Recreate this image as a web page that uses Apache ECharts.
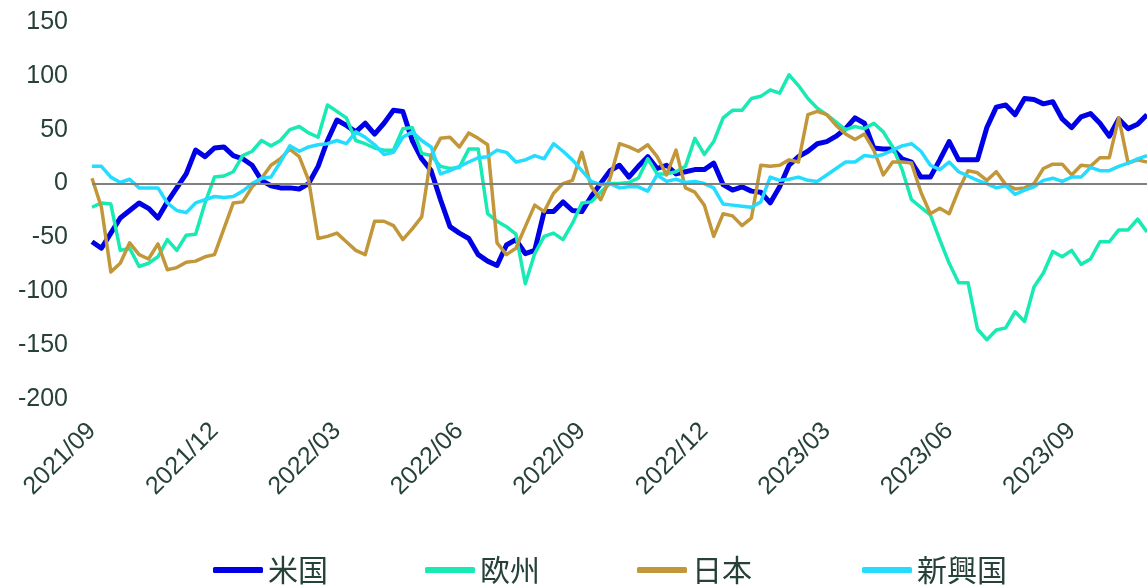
<!DOCTYPE html>
<html lang="ja">
<head>
    <meta charset="utf-8">
    <title>地域別推移</title>
    <script src="https://cdn.jsdelivr.net/npm/echarts@6/dist/echarts.min.js"></script>
    <style>
        html, body { margin: 0; padding: 0; background: #fff; }
        #chart { width: 1147px; height: 588px; }
    </style>
</head>
<body>
    <div id="chart"></div>
    <script>
        // weekly observations, first one 2021/09/03
        const startDate = new Date(2021, 8, 3);
        const pointCount = 113;
        const weeks = [];
        for (let i = 0; i < pointCount; i++) {
            const d = new Date(startDate.getTime() + i * 7 * 86400000);
            weeks.push(d.getFullYear() + '/' + String(d.getMonth() + 1).padStart(2, '0'));
        }

        const seriesNames = ['米国', '欧州', '日本', '新興国'];
        const yTicks = { min: -200, max: 150, step: 50 };

        const usa = [-54, -60, -46, -32, -25, -18, -23, -32, -17, -4, 9, 31, 25, 33, 34, 26, 23, 17, 3,
            -2, -4, -4, -5, 0, 16, 40, 59, 54, 48, 56, 46, 56, 68, 67, 40, 23, 12, -15, -40, -46,
            -51, -66, -72, -76, -57, -52, -65, -62, -26, -26, -17, -25, -26, -12, 0, 12, 17, 6, 16, 25,
            14, 17, 9, 11, 13, 13, 19, -1, -6, -3, -7, -8, -18, -3, 17, 25, 30, 37, 39, 44,
            51, 61, 56, 33, 32, 32, 23, 20, 6, 6, 22, 39, 22, 22, 22, 52, 71, 73, 64, 79,
            78, 74, 76, 60, 52, 62, 65, 56, 44, 60, 51, 55, 64];
        const europe = [-22, -18, -19, -62, -60, -77, -74, -68, -52, -62, -48, -47, -18, 6, 7, 11, 26, 30, 40,
            35, 40, 50, 53, 47, 43, 73, 67, 61, 40, 37, 33, 31, 31, 51, 52, 28, 26, 16, 14, 15,
            32, 32, -28, -35, -40, -47, -93, -65, -49, -46, -52, -37, -18, -17, -8, 0, 0, 1, 5, 23,
            9, 9, 11, 16, 42, 27, 39, 61, 68, 68, 79, 81, 87, 84, 101, 91, 79, 70, 64, 57,
            50, 53, 51, 56, 48, 34, 13, -15, -22, -29, -52, -74, -92, -92, -135, -145, -136, -134, -119, -128,
            -96, -83, -63, -68, -62, -75, -70, -54, -54, -43, -43, -33, -45];
        const japan = [5, -22, -82, -74, -55, -66, -70, -56, -80, -78, -73, -72, -68, -66, -42, -18, -17, -3, 5,
            17, 23, 32, 25, 3, -51, -49, -46, -54, -62, -66, -35, -35, -39, -52, -42, -31, 26, 42, 43, 34,
            47, 42, 36, -55, -66, -60, -40, -20, -26, -9, 0, 3, 29, -3, -15, 5, 37, 34, 30, 36,
            25, 8, 31, -4, -8, -20, -49, -28, -30, -39, -32, 17, 16, 17, 22, 20, 64, 67, 64, 54,
            46, 41, 46, 31, 8, 20, 20, 19, -8, -28, -23, -28, -6, 12, 10, 3, 11, -1, -5, -4,
            0, 14, 18, 18, 8, 17, 16, 24, 24, 61, 19, 22, 20];
        const emerging = [16, 16, 6, 1, 4, -4, -4, -4, -18, -25, -27, -18, -15, -12, -13, -12, -7, 0, 5,
            6, 20, 35, 30, 34, 36, 37, 40, 37, 48, 43, 36, 27, 29, 43, 48, 40, 34, 9, 12, 16,
            20, 24, 25, 31, 29, 20, 22, 26, 23, 37, 30, 22, 12, 2, -1, 0, -4, -3, -3, -7,
            8, 2, 4, 1, 2, 0, -4, -19, -20, -21, -22, -17, 6, 3, 4, 6, 3, 2, 8, 14,
            20, 20, 26, 25, 27, 31, 35, 37, 30, 17, 13, 20, 11, 7, 3, 0, -4, -2, -10, -6,
            -3, 3, 5, 2, 6, 6, 15, 12, 12, 16, 19, 23, 26];

        const colors = ['#0000e6', '#17eab2', '#c1973a', '#24dcff'];
        const widths = [5, 3.5, 3.5, 3.5];
        const textColor = '#26403a';

        const chart = echarts.init(document.getElementById('chart'));

        const values = [usa, europe, japan, emerging];
        const series = [{
            // grey zero line, drawn first so the data lines sit on top
            name: 'zero',
            type: 'line',
            data: [],
            silent: true,
            markLine: {
                silent: true,
                symbol: 'none',
                label: { show: false },
                lineStyle: { color: '#808080', width: 2, type: 'solid' },
                data: [{ yAxis: 0 }]
            }
        }];
        seriesNames.forEach(function (name, k) {
            series.push({
                name: name,
                type: 'line',
                data: values[k],
                symbol: 'none',
                lineStyle: { color: colors[k], width: widths[k], join: 'round' },
                itemStyle: { color: colors[k] }
            });
        });

        const legendText = { color: textColor, fontSize: 30, fontFamily: 'Noto Sans CJK JP' };
        const legendBase = {
            bottom: 3,
            padding: 0,
            icon: 'roundRect',
            itemWidth: 50,
            itemHeight: 6,
            itemGap: 97,
            textStyle: legendText
        };

        chart.setOption({
            animation: false,
            grid: { left: 92, right: 0, top: 22, bottom: 189, containLabel: false },
            legend: [
                Object.assign({ data: seriesNames.slice(0, 3), left: 213 }, legendBase),
                Object.assign({ data: seriesNames.slice(3), left: 862 }, legendBase)
            ],
            xAxis: {
                type: 'category',
                data: weeks,
                boundaryGap: false,
                axisLine: { show: false },
                axisTick: { show: false },
                splitLine: { show: false },
                axisLabel: {
                    interval: function (i) { return i % 13 === 0; },
                    rotate: 45,
                    margin: 28,
                    color: textColor,
                    fontSize: 25,
                    fontFamily: 'Liberation Sans'
                }
            },
            yAxis: {
                type: 'value',
                min: yTicks.min,
                max: yTicks.max,
                interval: yTicks.step,
                axisLine: { show: false },
                axisTick: { show: false },
                splitLine: { show: false },
                axisLabel: {
                    margin: 24,
                    color: textColor,
                    fontSize: 25,
                    fontFamily: 'Liberation Sans'
                }
            },
            series: series
        });
    </script>
</body>
</html>
